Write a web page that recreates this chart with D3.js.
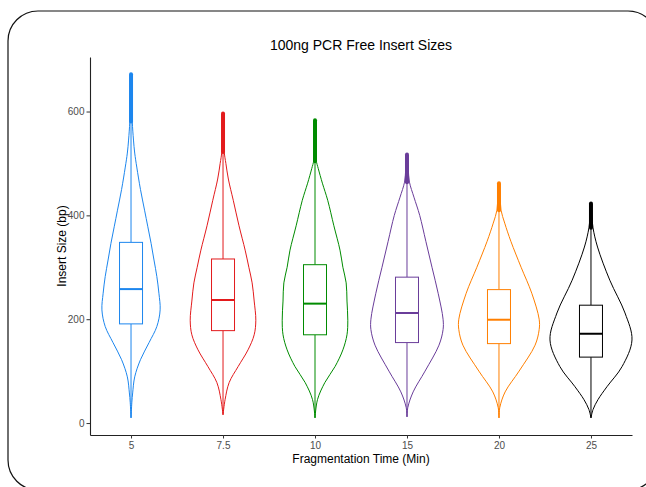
<!DOCTYPE html>
<html>
<head>
<meta charset="utf-8">
<script src="https://cdn.jsdelivr.net/npm/d3@7"></script>
<style>
  body { margin: 0; background: #fff; }
  text { font-family: "Liberation Sans", Arial, sans-serif; }
</style>
</head>
<body>
<div id="chart"></div>
<script>
// Fragmentation times (x categories)
var categories = ["5", "7.5", "10", "15", "20", "25"];

// Boxplot stats (insert size, bp)
var whiskerLow  = [10, 16, 10, 12, 10, 10];
var q1          = [191, 178, 170, 155, 153, 127];
var median      = [258, 237, 230, 212, 199, 172];
var q3          = [348, 316, 305, 281, 257, 227];
var whiskerHigh = [581, 522, 504, 464, 410, 376];
var outlierMax  = [672, 596, 583, 517, 462, 423];

// Violin density profiles: [insert size, relative density (0-100)]
var density5 = [[10,0],[40,2],[58,4],[89,9],[122,23],[155,44],[186,63],[218,71],[250,68],[282,63],
  [314,56],[346,49],[378,41],[410,33],[450,23],[493,14],[520,9],[545,6],[581,3],[630,2],[672,0]];
var density7_5 = [[16,0],[45,5],[78,15],[109,37],[141,61],[170,76],[198,80],[235,76],[270,71],[300,63],
  [333,54],[380,39],[429,25],[470,13],[500,7],[522,3],[560,2],[596,0]];
var density10 = [[10,0],[45,6],[78,24],[109,49],[141,68],[170,78],[198,80],[235,78],[270,76],[300,68],
  [333,61],[380,46],[429,31],[462,18],[490,8],[506,3],[540,2],[583,0]];
var density15 = [[12,0],[30,2],[60,15],[100,44],[150,78],[180,88],[200,88],[250,76],[300,61],[350,46],
  [400,31],[435,17],[464,6],[490,3],[517,0]];
var density20 = [[10,0],[30,2],[60,15],[100,49],[150,88],[180,98],[200,98],[250,80],[300,54],[350,29],
  [385,14],[410,5],[435,3],[462,0]];
var density25 = [[10,0],[26,5],[45,17],[70,39],[109,76],[160,100],[212,83],[275,46],[339,16],[376,5],
  [400,2],[423,0]];
var densities = [density5, density7_5, density10, density15, density20, density25];

var yTicks = [0, 200, 400, 600];

// c25-style palette
var colors = ["#1C86EE", "#E31A1C", "#008B00", "#6A3D9A", "#FF7F00", "#000000"];

var W = 646, H = 487;
var plot = {left: 90, right: 632, top: 57, bottom: 435};

var svg = d3.select('#chart').append('svg')
  .attr('width', W).attr('height', H);

// rounded frame around the whole figure
svg.append('rect')
  .attr('x', 8).attr('y', 11)
  .attr('width', 650).attr('height', 479)
  .attr('rx', 30).attr('ry', 30)
  .attr('fill', '#fff')
  .attr('stroke', '#111')
  .attr('stroke-width', 1.2);

var x = d3.scalePoint()
  .domain(categories)
  .range([plot.left, plot.right])
  .padding(0.446);

var y = d3.scaleLinear()
  .domain([-23, 705])
  .range([plot.bottom, plot.top]);

// half-width of violin from relative density
var w = d3.scaleLinear().domain([0, 100]).range([0, 41]);
var boxHalf = 11.5;

var groups = svg.selectAll('.grp')
  .data(categories)
  .enter()
  .append('g')
  .attr('class', 'grp');

// violins
groups.append('path')
  .attr('fill', 'none')
  .attr('stroke', function(d, i) { return colors[i]; })
  .attr('stroke-width', 1)
  .attr('d', function(d, i) {
    var cx = x(d);
    return d3.area()
      .curve(d3.curveCatmullRom.alpha(0.5))
      .y(function(p) { return y(p[0]); })
      .x0(function(p) { return cx - w(p[1]); })
      .x1(function(p) { return cx + w(p[1]); })(densities[i]);
  });

// lower whisker
groups.append('line')
  .attr('x1', function(d) { return x(d); })
  .attr('x2', function(d) { return x(d); })
  .attr('y1', function(d, i) { return y(whiskerLow[i]); })
  .attr('y2', function(d, i) { return y(q1[i]); })
  .attr('stroke', function(d, i) { return colors[i]; })
  .attr('stroke-width', 1);

// upper whisker
groups.append('line')
  .attr('x1', function(d) { return x(d); })
  .attr('x2', function(d) { return x(d); })
  .attr('y1', function(d, i) { return y(q3[i]); })
  .attr('y2', function(d, i) { return y(whiskerHigh[i]); })
  .attr('stroke', function(d, i) { return colors[i]; })
  .attr('stroke-width', 1);

// outliers (dense run of points)
groups.append('line')
  .attr('x1', function(d) { return x(d); })
  .attr('x2', function(d) { return x(d); })
  .attr('y1', function(d, i) { return y(whiskerHigh[i]); })
  .attr('y2', function(d, i) { return y(outlierMax[i]); })
  .attr('stroke', function(d, i) { return colors[i]; })
  .attr('stroke-width', 4)
  .attr('stroke-linecap', 'round');

// boxes
groups.append('rect')
  .attr('x', function(d) { return x(d) - boxHalf; })
  .attr('width', boxHalf * 2)
  .attr('y', function(d, i) { return y(q3[i]); })
  .attr('height', function(d, i) { return y(q1[i]) - y(q3[i]); })
  .attr('fill', '#fff')
  .attr('stroke', function(d, i) { return colors[i]; })
  .attr('stroke-width', 1);

// medians
groups.append('line')
  .attr('x1', function(d) { return x(d) - boxHalf; })
  .attr('x2', function(d) { return x(d) + boxHalf; })
  .attr('y1', function(d, i) { return y(median[i]); })
  .attr('y2', function(d, i) { return y(median[i]); })
  .attr('stroke', function(d, i) { return colors[i]; })
  .attr('stroke-width', 2);

// axes
var xAxis = d3.axisBottom(x).tickSize(3.5).tickSizeOuter(0).tickPadding(3);
var yAxis = d3.axisLeft(y).tickValues(yTicks).tickSize(3.5).tickSizeOuter(0).tickPadding(2);

var gx = svg.append('g')
  .attr('transform', 'translate(0,' + plot.bottom + ')')
  .call(xAxis);
var gy = svg.append('g')
  .attr('transform', 'translate(' + plot.left + ',0)')
  .call(yAxis);

[gx, gy].forEach(function(g) {
  g.select('.domain').attr('stroke', '#222').attr('stroke-width', 1.1);
  g.selectAll('.tick line').attr('stroke', '#333');
  g.selectAll('.tick text')
    .attr('fill', '#4d4d4d')
    .style('font-size', '10px')
    .style('font-family', '"Liberation Sans", Arial, sans-serif');
});

// title and axis titles
svg.append('text')
  .attr('x', (plot.left + plot.right) / 2)
  .attr('y', 50)
  .attr('text-anchor', 'middle')
  .style('font-size', '14px')
  .text('100ng PCR Free Insert Sizes');

svg.append('text')
  .attr('x', (plot.left + plot.right) / 2)
  .attr('y', 463)
  .attr('text-anchor', 'middle')
  .style('font-size', '12px')
  .text('Fragmentation Time (Min)');

svg.append('text')
  .attr('transform', 'translate(66,' + (plot.top + plot.bottom) / 2 + ') rotate(-90)')
  .attr('text-anchor', 'middle')
  .style('font-size', '12px')
  .text('Insert Size (bp)');
</script>
</body>
</html>
